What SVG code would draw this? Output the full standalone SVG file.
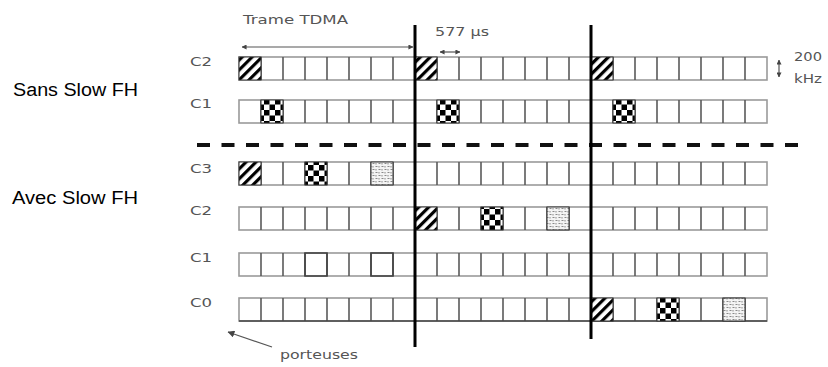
<svg xmlns="http://www.w3.org/2000/svg" xmlns:xlink="http://www.w3.org/1999/xlink" width="828" height="367" viewBox="0 0 828 367">
<style>
.frame{fill:#fff;stroke:#9a9a9a;stroke-width:1.6}
.div{fill:none;stroke:#5a5a5a;stroke-width:1.6}
.lbl{font-family:"DejaVu Sans",sans-serif;font-size:12px;fill:#555}
.ann{font-family:"DejaVu Sans",sans-serif;font-size:13px;fill:#555}
.big{font-family:"Liberation Sans",Arial,sans-serif;font-size:18px;fill:#000}
.cell{stroke:#333;stroke-width:1}
.h{fill:url(#hatch)}
.c{fill:url(#check)}
.s{fill:url(#speck)}
.tl{stroke:#000;stroke-width:3;fill:none}
.arr{stroke:#555;stroke-width:1.2;fill:none}
</style>
<defs>
<pattern id="hatch" patternUnits="userSpaceOnUse" width="7" height="7" patternTransform="rotate(45)">
<rect width="7" height="7" fill="#fff"/><rect width="3.2" height="7" fill="#000"/>
</pattern>
<pattern id="check" patternUnits="userSpaceOnUse" width="11" height="11">
<rect width="11" height="11" fill="#fff"/><rect width="5.5" height="5.5" fill="#000"/><rect x="5.5" y="5.5" width="5.5" height="5.5" fill="#000"/>
</pattern>
<pattern id="speck" patternUnits="userSpaceOnUse" width="6" height="6">
<rect width="6" height="6" fill="#f4f4f4"/><path d="M0.5,1.5h2M3.5,4.5h2M4,1v1.5M1,4v1.5" stroke="#888" stroke-width="1"/>
</pattern>
<g id="row">
<rect class="frame" x="239" y="0" width="528" height="23"/>
<path class="div" d="M261,0v23M283,0v23M305,0v23M327,0v23M349,0v23M371,0v23M393,0v23M415,0v23M437,0v23M459,0v23M481,0v23M503,0v23M525,0v23M547,0v23M569,0v23M591,0v23M613,0v23M635,0v23M657,0v23M679,0v23M701,0v23M723,0v23M745,0v23"/>
</g>
<marker id="ah" viewBox="0 0 6 6" refX="5.5" refY="3" markerWidth="5" markerHeight="5" orient="auto-start-reverse" markerUnits="userSpaceOnUse">
<path d="M0,0L6,3L0,6z" fill="#444"/>
</marker>
<marker id="ah2" viewBox="0 0 6 6" refX="5.5" refY="3" markerWidth="7" markerHeight="7" orient="auto" markerUnits="userSpaceOnUse">
<path d="M0,0L6,3L0,6z" fill="#444"/>
</marker>
</defs>
<rect width="828" height="367" fill="#fff"/>

<g id="label-sans"><text class="big" x="13" y="96" textLength="125" lengthAdjust="spacingAndGlyphs">Sans Slow FH</text></g>
<g id="label-avec"><text class="big" x="12" y="204" textLength="126" lengthAdjust="spacingAndGlyphs">Avec Slow FH</text></g>

<g id="sans-c2">
<text class="lbl" x="190" y="66" textLength="22" lengthAdjust="spacingAndGlyphs">C2</text>
<use xlink:href="#row" href="#row" y="57"/>
<rect class="cell h" x="239" y="57" width="22" height="23"/>
<rect class="cell h" x="415" y="57" width="22" height="23"/>
<rect class="cell h" x="591" y="57" width="22" height="23"/>
</g>
<g id="sans-c1">
<text class="lbl" x="190" y="108" textLength="22" lengthAdjust="spacingAndGlyphs">C1</text>
<use xlink:href="#row" href="#row" y="100"/>
<rect class="cell c" x="261" y="100" width="22" height="23"/>
<rect class="cell c" x="437" y="100" width="22" height="23"/>
<rect class="cell c" x="613" y="100" width="22" height="23"/>
</g>
<g id="avec-c3">
<text class="lbl" x="190" y="173" textLength="22" lengthAdjust="spacingAndGlyphs">C3</text>
<use xlink:href="#row" href="#row" y="162"/>
<rect class="cell h" x="239" y="162" width="22" height="23"/>
<rect class="cell c" x="305" y="162" width="22" height="23"/>
<rect class="cell s" x="371" y="162" width="22" height="23" stroke="#bbb"/>
</g>
<g id="avec-c2">
<text class="lbl" x="190" y="215" textLength="22" lengthAdjust="spacingAndGlyphs">C2</text>
<use xlink:href="#row" href="#row" y="207"/>
<rect class="cell h" x="415" y="207" width="22" height="23"/>
<rect class="cell c" x="481" y="207" width="22" height="23"/>
<rect class="cell s" x="547" y="207" width="22" height="23" stroke="#bbb"/>
</g>
<g id="avec-c1">
<text class="lbl" x="190" y="262" textLength="22" lengthAdjust="spacingAndGlyphs">C1</text>
<use xlink:href="#row" href="#row" y="253"/>
<rect x="305" y="253" width="22" height="23" fill="none" stroke="#444" stroke-width="1.6"/>
<rect x="371" y="253" width="22" height="23" fill="none" stroke="#444" stroke-width="1.6"/>
</g>
<g id="avec-c0">
<text class="lbl" x="190" y="307" textLength="22" lengthAdjust="spacingAndGlyphs">C0</text>
<use xlink:href="#row" href="#row" y="298"/>
<line x1="239" y1="321" x2="767" y2="321" stroke="#444" stroke-width="1.6"/>
<rect class="cell h" x="591" y="298" width="22" height="23"/>
<rect class="cell c" x="657" y="298" width="22" height="23"/>
<rect class="cell s" x="723" y="298" width="22" height="23" stroke="#bbb"/>
</g>

<g id="annotations">
<text class="ann" x="243" y="24" textLength="105" lengthAdjust="spacingAndGlyphs">Trame TDMA</text>
<text class="ann" x="435" y="36" textLength="54" lengthAdjust="spacingAndGlyphs">577 µs</text>
<text class="ann" x="794" y="61" textLength="28" lengthAdjust="spacingAndGlyphs">200</text>
<text class="ann" x="794" y="83" textLength="28" lengthAdjust="spacingAndGlyphs">kHz</text>
<text class="ann" x="280" y="359" textLength="78" lengthAdjust="spacingAndGlyphs">porteuses</text>
</g>

<g id="connectors">
<line x1="197" y1="145" x2="805" y2="145" stroke="#111" stroke-width="4" stroke-dasharray="13 11.5"/>
<line class="tl" x1="415" y1="25" x2="415" y2="347"/>
<line class="tl" x1="591" y1="25" x2="591" y2="339"/>
<line class="arr" x1="242" y1="47" x2="413" y2="47" marker-start="url(#ah)" marker-end="url(#ah)"/>
<line class="arr" x1="440" y1="52" x2="460" y2="52" marker-start="url(#ah)" marker-end="url(#ah)"/>
<line class="arr" x1="779" y1="60" x2="779" y2="77" marker-start="url(#ah)" marker-end="url(#ah)"/>
<line class="arr" x1="272" y1="347" x2="228" y2="332" marker-end="url(#ah2)"/>
</g>
</svg>
